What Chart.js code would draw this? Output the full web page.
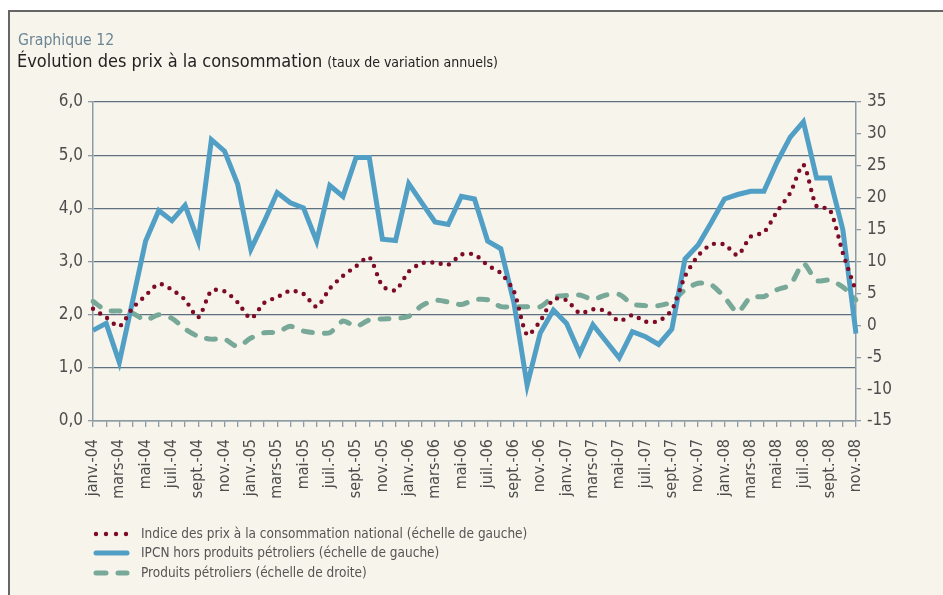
<!DOCTYPE html>
<html>
<head>
<meta charset="utf-8">
<script src="https://cdn.jsdelivr.net/npm/chart.js@4"></script>
<style>
  html, body { margin: 0; padding: 0; background: #fff; }
  canvas { display: block; }
</style>
</head>
<body>
<canvas id="chart" width="943" height="595"></canvas>
<script>
// Data
const monthNames = ['janv.', 'févr.', 'mars', 'avr.', 'mai', 'juin', 'juil.', 'août', 'sept.', 'oct.', 'nov.', 'déc.'];
const years = ['04', '05', '06', '07', '08'];
const monthCount = 59; // janv.-04 -> nov.-08

const ipcnNational = [
  2.11, 1.95, 1.78, 2.12, 2.36, 2.58, 2.47, 2.28, 1.95, 2.45,
  2.44, 2.23, 1.93, 2.22, 2.33, 2.45, 2.39, 2.15, 2.49, 2.73,
  2.91, 3.08, 2.54, 2.46, 2.81, 2.97, 2.98, 2.94, 3.13, 3.13,
  2.93, 2.78, 2.44, 1.62, 1.88, 2.29, 2.27, 2.03, 2.10, 2.07,
  1.88, 1.99, 1.87, 1.88, 2.09, 2.72, 3.11, 3.32, 3.32, 3.12,
  3.47, 3.55, 3.94, 4.29, 4.82, 4.04, 3.98, 3.16, 2.44
];
// blue solid line, read against the right-hand scale
const ipcnHorsPetrole = [
  -0.8, 0.3, -5.8, 3.7, 13.2, 18.0, 16.4, 18.8, 13.2, 29.1,
  27.3, 22.1, 11.9, 16.2, 20.8, 19.2, 18.4, 13.2, 21.9, 20.2,
  26.3, 26.3, 13.5, 13.3, 22.2, 19.2, 16.2, 15.8, 20.2, 19.8,
  13.2, 12.0, 3.5, -9.4, -1.2, 2.4, 0.3, -4.4, 0.1, -2.5,
  -5.1, -1.0, -1.8, -3.0, -0.6, 10.4, 12.6, 16.1, 19.8, 20.5,
  21.0, 21.0, 25.6, 29.5, 31.9, 23.1, 23.1, 15.0, -1.3
];
// green dashed line, read against the left-hand scale
const produitsPetroliers = [
  2.25, 2.08, 2.07, 2.03, 1.90, 2.00, 1.93, 1.73, 1.59, 1.54,
  1.54, 1.40, 1.56, 1.66, 1.67, 1.78, 1.69, 1.66, 1.66, 1.88,
  1.78, 1.90, 1.92, 1.93, 1.97, 2.17, 2.27, 2.24, 2.19, 2.28,
  2.28, 2.15, 2.15, 2.15, 2.15, 2.33, 2.36, 2.37, 2.29, 2.37,
  2.38, 2.20, 2.17, 2.17, 2.24, 2.47, 2.59, 2.56, 2.33, 2.05,
  2.33, 2.34, 2.47, 2.56, 2.96, 2.64, 2.65, 2.52, 2.28
];

const labels = [];
for (let i = 0; i < monthCount; i++) {
  labels.push(monthNames[i % 12] + '-' + years[Math.floor(i / 12)]);
}

const FONT = "'Liberation Sans Narrow', 'DejaVu Sans Condensed', 'Roboto', sans-serif";
const AXIS_COLOR = '#8d9ba6';
const GRID_COLOR = '#5f7080';
const TEXT_COLOR = '#4d4d4d';

// frame, titles and legend drawn straight on the canvas
const decorations = {
  id: 'decorations',
  beforeDraw(chart) {
    const ctx = chart.ctx;
    ctx.save();
    ctx.fillStyle = '#ffffff';
    ctx.fillRect(0, 0, chart.width, chart.height);
    ctx.fillStyle = '#f7f4ec';
    ctx.fillRect(9, 11, chart.width - 9, chart.height - 11);
    ctx.strokeStyle = '#666666';
    ctx.lineWidth = 2;
    ctx.beginPath();
    ctx.moveTo(chart.width, 11);
    ctx.lineTo(9, 11);
    ctx.lineTo(9, chart.height);
    ctx.stroke();

    ctx.textBaseline = 'alphabetic';
    ctx.fillStyle = '#6b8595';
    ctx.font = '15.7px ' + FONT;
    ctx.fillText('Graphique 12', 18, 45);
    ctx.fillStyle = '#222222';
    ctx.font = '18px ' + FONT;
    const title = 'Évolution des prix à la consommation';
    ctx.fillText(title, 17, 67);
    const w = ctx.measureText(title).width;
    ctx.font = '14px ' + FONT;
    ctx.fillText('(taux de variation annuels)', 17 + w + 5, 67);
    ctx.restore();
  },
  afterDraw(chart) {
    const ctx = chart.ctx;
    ctx.save();
    const rows = [534, 553, 573];
    chart.data.datasets.forEach((ds, i) => {
      const y = rows[i];
      ctx.strokeStyle = ds.borderColor;
      ctx.lineWidth = ds.borderWidth;
      ctx.lineCap = 'round';
      ctx.setLineDash(ds.legendDash || []);
      ctx.beginPath();
      ctx.moveTo(96, y);
      ctx.lineTo(127, y);
      ctx.stroke();
      ctx.setLineDash([]);
      ctx.fillStyle = '#555555';
      ctx.font = '13.5px ' + FONT;
      ctx.textBaseline = 'middle';
      ctx.fillText(ds.label, 141, y);
    });
    ctx.restore();
  }
};

new Chart(document.getElementById('chart'), {
  type: 'line',
  data: {
    labels: labels,
    datasets: [
      {
        label: 'Indice des prix à la consommation national (échelle de gauche)',
        data: ipcnNational,
        yAxisID: 'y',
        borderColor: '#7d0a26',
        borderWidth: 4.4,
        borderDash: [0, 8.5],
        legendDash: [0, 10],
        borderCapStyle: 'round',
        pointRadius: 0,
        tension: 0.25,
        fill: false,
        order: 1
      },
      {
        label: 'IPCN hors produits pétroliers (échelle de gauche)',
        data: ipcnHorsPetrole,
        yAxisID: 'y1',
        borderColor: '#529fc6',
        borderWidth: 5,
        borderJoinStyle: 'miter',
        pointRadius: 0,
        tension: 0,
        fill: false,
        order: 2
      },
      {
        label: 'Produits pétroliers (échelle de droite)',
        data: produitsPetroliers,
        yAxisID: 'y',
        borderColor: '#78a898',
        borderWidth: 5,
        borderDash: [9, 12],
        legendDash: [10, 12],
        borderCapStyle: 'round',
        pointRadius: 0,
        tension: 0.25,
        fill: false,
        order: 3
      }
    ]
  },
  options: {
    responsive: false,
    animation: false,
    layout: { padding: { top: 102, left: 0, right: 0, bottom: 0 } },
    plugins: {
      legend: { display: false },
      tooltip: { enabled: false }
    },
    scales: {
      x: {
        offset: false,
        afterFit: (scale) => { scale.height = 174; },
        grid: { drawOnChartArea: false, drawTicks: true, tickLength: 6, color: AXIS_COLOR, lineWidth: 1.3 },
        border: { display: true, color: AXIS_COLOR, width: 1.5 },
        ticks: {
          autoSkip: false,
          maxRotation: 90,
          minRotation: 90,
          padding: 12,
          color: TEXT_COLOR,
          font: { family: FONT, size: 16 },
          callback: (value, index) => (index % 2 === 0 ? labels[index] : '')
        }
      },
      y: {
        position: 'left',
        min: 0,
        max: 6,
        afterFit: (scale) => { scale.width = 93; },
        grid: { color: GRID_COLOR, lineWidth: 1.3, drawTicks: true, tickLength: 5, tickColor: AXIS_COLOR },
        border: { display: true, color: AXIS_COLOR, width: 1.5 },
        ticks: {
          stepSize: 1,
          padding: 5,
          color: TEXT_COLOR,
          font: { family: FONT, size: 17 },
          callback: (v) => v.toFixed(1).replace('.', ',')
        }
      },
      y1: {
        position: 'right',
        min: -15,
        max: 35,
        afterFit: (scale) => { scale.width = 87; },
        grid: { drawOnChartArea: false, drawTicks: true, tickLength: 5, color: AXIS_COLOR, lineWidth: 1.3 },
        border: { display: true, color: AXIS_COLOR, width: 1.5 },
        ticks: {
          stepSize: 5,
          padding: 6,
          color: TEXT_COLOR,
          font: { family: FONT, size: 17 }
        }
      }
    }
  },
  plugins: [decorations]
});
</script>
</body>
</html>
